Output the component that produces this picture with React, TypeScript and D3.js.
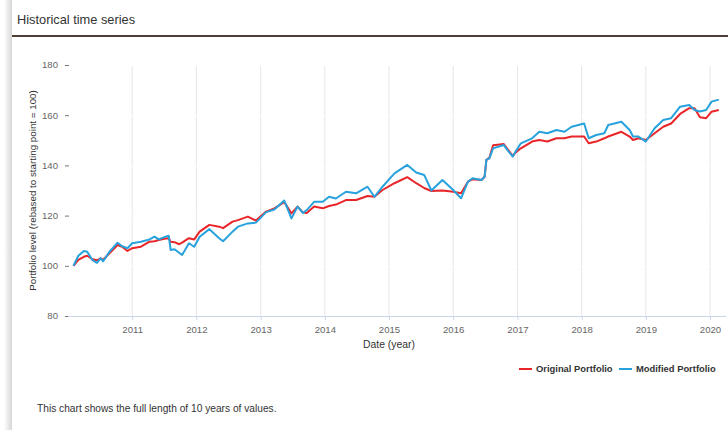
import React, { useEffect, useRef } from "react";
import * as d3 from "d3";

// values (rebased to 100)
const dates = [
  "2010-02-01", "2010-03-01", "2010-04-01", "2010-04-20", "2010-05-20", "2010-06-15", "2010-07-05", "2010-07-20",
  "2010-08-25", "2010-10-10", "2010-11-05", "2010-12-05", "2011-01-01", "2011-02-20", "2011-04-10", "2011-05-08",
  "2011-06-01", "2011-07-10", "2011-07-28", "2011-08-08", "2011-08-30", "2011-09-25", "2011-10-12", "2011-11-20",
  "2011-12-20", "2012-01-20", "2012-03-15", "2012-05-10", "2012-06-01", "2012-07-25", "2012-08-25", "2012-10-20",
  "2012-12-05", "2013-02-01", "2013-03-20", "2013-05-15", "2013-06-25", "2013-07-30", "2013-08-30", "2013-09-20",
  "2013-11-01", "2013-12-20", "2014-01-25", "2014-03-05", "2014-05-01", "2014-06-28", "2014-09-01", "2014-10-10",
  "2014-11-25", "2015-02-01", "2015-04-15", "2015-06-05", "2015-07-20", "2015-08-30", "2015-11-01", "2016-01-01",
  "2016-02-15", "2016-03-25", "2016-04-20", "2016-06-10", "2016-06-28", "2016-07-08", "2016-07-25", "2016-08-15",
  "2016-10-15", "2016-11-05", "2016-12-05", "2016-12-20", "2017-01-20", "2017-03-25", "2017-05-05", "2017-06-20",
  "2017-08-10", "2017-09-25", "2017-11-05", "2018-01-15", "2018-02-10", "2018-03-25", "2018-05-10", "2018-06-01",
  "2018-08-15", "2018-10-01", "2018-10-20", "2018-11-20", "2019-01-01", "2019-02-20", "2019-04-10", "2019-05-25",
  "2019-07-15", "2019-09-05", "2019-10-05", "2019-11-05", "2019-12-10", "2020-01-10", "2020-02-20",
];

const originalPortfolio = [
  100.0, 102.4, 103.6, 104.0, 102.6, 102.2, 103.0, 102.4,
  105.0, 108.3, 107.6, 105.9, 107.0, 107.6, 109.6, 109.8,
  110.3, 110.9, 111.0, 109.6, 109.4, 108.6, 109.2, 111.0,
  110.5, 113.6, 116.3, 115.6, 115.0, 117.6, 118.2, 119.6,
  118.0, 121.6, 122.9, 125.4, 120.9, 123.6, 121.2, 121.0,
  123.6, 122.9, 123.8, 124.4, 126.2, 126.2, 127.8, 127.5,
  130.2, 132.9, 135.3, 132.9, 131.0, 129.8, 130.0, 129.5,
  128.9, 133.5, 134.5, 134.2, 135.5, 142.2, 143.0, 148.0,
  148.5, 146.5, 143.8, 145.0, 146.8, 149.5, 150.1, 149.5,
  150.8, 150.8, 151.5, 151.5, 148.8, 149.5, 150.8, 151.5,
  153.4, 151.5, 150.1, 150.8, 150.1, 152.8, 155.4, 156.7,
  160.5, 162.8, 162.8, 159.2, 158.8, 161.4, 162.1,
];

const modifiedPortfolio = [
  100.0, 104.0, 105.9, 105.6, 102.3, 101.2, 103.0, 101.8,
  105.6, 109.2, 107.8, 107.0, 109.0, 109.6, 110.5, 111.6,
  110.5, 111.6, 112.0, 106.3, 106.6, 105.2, 104.3, 109.0,
  107.6, 111.6, 114.6, 111.0, 109.8, 113.6, 115.6, 116.9,
  117.2, 121.4, 122.4, 126.0, 118.9, 123.6, 121.0, 122.2,
  125.5, 125.5, 127.5, 126.8, 129.5, 128.9, 131.5, 127.5,
  131.5, 136.8, 140.2, 137.2, 136.2, 130.0, 134.2, 130.2,
  126.9, 133.5, 134.9, 134.2, 135.5, 142.2, 142.8, 146.8,
  148.1, 146.1, 143.5, 145.4, 148.8, 150.8, 153.4, 152.8,
  154.1, 153.4, 155.4, 156.7, 150.8, 152.1, 152.8, 156.1,
  157.4, 154.1, 151.5, 151.5, 149.5, 154.8, 158.1, 158.8,
  163.4, 164.1, 162.1, 161.5, 162.1, 165.4, 166.2,
];

const yTicks = [80, 100, 120, 140, 160, 180];
const xTickYears = ["2011", "2012", "2013", "2014", "2015", "2016", "2017", "2018", "2019", "2020"];

const seriesNames = ["Original Portfolio", "Modified Portfolio"];
const seriesColors = ["#e8262a", "#27a2dc"];

const FONT = "'Liberation Sans', Arial, Helvetica, sans-serif";

export default function App() {
  const ref = useRef<SVGSVGElement>(null);

  useEffect(() => {
    const width = 728, height = 430;
    const plot = { left: 68, right: 726, top: 65, bottom: 316 };
    const svg = d3.select(ref.current);
    svg.selectAll("*").remove();

    const parse = d3.timeParse("%Y-%m-%d");
    const x = d3.scaleTime()
      .domain([parse("2010-01-01")!, parse("2020-04-01")!])
      .range([plot.left, plot.right]);
    const y = d3.scaleLinear().domain([80, 180]).range([plot.bottom, plot.top]);

    // card background + soft left shadow
    const defs = svg.append("defs");
    const grad = defs.append("linearGradient").attr("id", "shadow").attr("x1", "0").attr("x2", "1");
    grad.append("stop").attr("offset", "0").attr("stop-color", "#ffffff");
    grad.append("stop").attr("offset", "1").attr("stop-color", "#d6d6d6");
    svg.append("rect").attr("width", width).attr("height", height).attr("fill", "#fff");
    svg.append("rect").attr("x", 4).attr("y", 0).attr("width", 8).attr("height", height).attr("fill", "url(#shadow)");
    svg.append("rect").attr("x", 12).attr("y", 0).attr("width", width - 12).attr("height", height).attr("fill", "#fff");

    // header
    svg.append("text")
      .attr("x", 17).attr("y", 24)
      .style("font-family", FONT).style("font-size", "12.8px").attr("fill", "#333")
      .text("Historical time series");
    svg.append("line")
      .attr("x1", 12).attr("x2", width).attr("y1", 36).attr("y2", 36)
      .attr("stroke", "#4b3f37").attr("stroke-width", 2);

    // vertical grid lines at each year
    const yearDates = xTickYears.map(t => parse(t + "-01-01")!);
    svg.append("g").selectAll("line").data(yearDates).enter().append("line")
      .attr("x1", d => x(d)).attr("x2", d => x(d))
      .attr("y1", plot.top).attr("y2", plot.bottom)
      .attr("stroke", "#e6e6e6").attr("stroke-width", 1);

    // white horizontal grid
    svg.append("g").selectAll("line").data(yTicks.slice(1)).enter().append("line")
      .attr("x1", plot.left).attr("x2", plot.right)
      .attr("y1", d => y(d) + 0.5).attr("y2", d => y(d) + 0.5)
      .attr("stroke", "#fff").attr("stroke-width", 1);

    // y axis labels and ticks
    const yAxis = svg.append("g");
    yAxis.selectAll("text").data(yTicks).enter().append("text")
      .attr("x", 58).attr("y", d => y(d) + 3.3)
      .attr("text-anchor", "end")
      .style("font-family", FONT).style("font-size", "9.6px").attr("fill", "#666")
      .text(d => d);
    yAxis.selectAll("line").data(yTicks).enter().append("line")
      .attr("x1", 65).attr("x2", 69)
      .attr("y1", d => y(d) + 0.5).attr("y2", d => y(d) + 0.5)
      .attr("stroke", "#777").attr("stroke-width", 1);

    // x axis
    const xAxis = svg.append("g").attr("transform", `translate(0,${plot.bottom})`)
      .call(d3.axisBottom(x).tickValues(yearDates).tickFormat(d3.timeFormat("%Y") as any).tickSize(4).tickPadding(6));
    xAxis.select(".domain").attr("stroke", "#ccd6eb").attr("d", `M${plot.left},0.5H${plot.right}`);
    xAxis.selectAll(".tick line").attr("stroke", "#ccd6eb");
    xAxis.selectAll(".tick text")
      .style("font-family", FONT).style("font-size", "9.6px").attr("fill", "#666");

    // axis titles
    svg.append("text")
      .attr("x", (plot.left + plot.right) / 2 - 8).attr("y", 348)
      .attr("text-anchor", "middle")
      .style("font-family", FONT).style("font-size", "10.4px").attr("fill", "#333")
      .text("Date (year)");
    svg.append("text")
      .attr("transform", `translate(36,${(plot.top + plot.bottom) / 2}) rotate(-90)`)
      .attr("text-anchor", "middle")
      .style("font-family", FONT).style("font-size", "9.8px").attr("fill", "#333")
      .text("Portfolio level (rebased to starting point = 100)");

    // series
    const line = d3.line<[Date, number]>().x(d => x(d[0])).y(d => y(d[1]));
    [originalPortfolio, modifiedPortfolio].forEach((vals, i) => {
      const pts = dates.map((d, k) => [parse(d)!, vals[k]] as [Date, number]);
      svg.append("path")
        .datum(pts)
        .attr("d", line)
        .attr("fill", "none")
        .attr("stroke", seriesColors[i])
        .attr("stroke-width", 2)
        .attr("stroke-linejoin", "round");
    });

    // legend
    const legendX = [519, 619];
    seriesNames.forEach((name, i) => {
      const g = svg.append("g").attr("transform", `translate(${legendX[i]},369)`);
      g.append("line").attr("x1", 0).attr("x2", 13).attr("y1", 0).attr("y2", 0)
        .attr("stroke", seriesColors[i]).attr("stroke-width", 2);
      g.append("text").attr("x", 17).attr("y", 3.4)
        .style("font-family", FONT).style("font-size", "9.4px").style("font-weight", "bold").attr("fill", "#333")
        .text(name);
    });

    // footer note
    svg.append("text")
      .attr("x", 37).attr("y", 412)
      .style("font-family", FONT).style("font-size", "10.2px").attr("fill", "#333")
      .text("This chart shows the full length of 10 years of values.");
  }, []);

  return (
    <svg ref={ref} width={728} height={430}
      style={{ position: "absolute", left: 0, top: 0, display: "block" }} />
  );
}
